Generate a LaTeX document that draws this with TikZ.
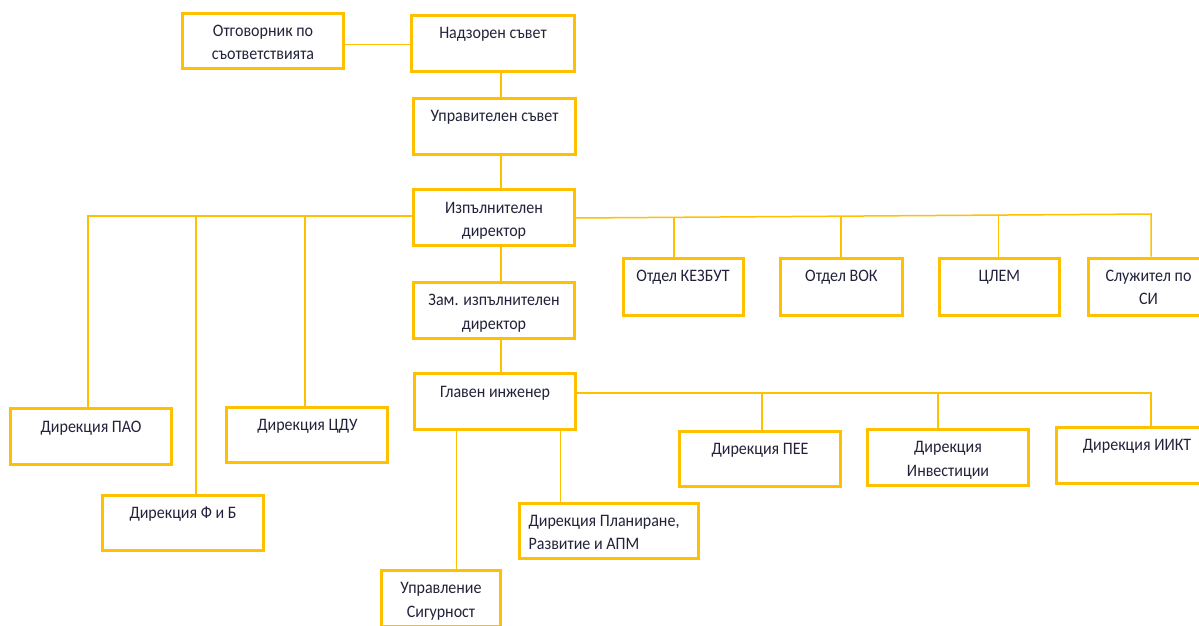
\documentclass[tikz,border=0pt]{standalone}
\usepackage{fontspec}
\setmainfont{Carlito}[FakeStretch=0.915]
\definecolor{gold}{RGB}{255,192,0}
\definecolor{ink}{RGB}{34,34,58}
\newcommand\fst{\rule{0pt}{13pt}}
\begin{document}
\begin{tikzpicture}[x=1pt,y=-1pt,
  orgbox/.style={draw=gold, line width=3pt, fill=white, inner sep=0pt,
    minimum width=#1, minimum height=55.5pt},
  orglbl/.style={anchor=north, yshift=-11.5pt, inner sep=0pt, text=ink,
    align=center, font=\fontsize{17.5}{23.5}\selectfont},
  conn/.style={draw=gold, line width=1.5pt}]
\useasboundingbox (0,0) rectangle (1199,626);
\clip (0,0) rectangle (1199,626);

% boxes
\node[orgbox=161pt, label={[orglbl]north:{\fst Отговорник по\\съответствията}}] (otv) at (263,41) {};
\node[orgbox=163pt, label={[orglbl]north:{\fst Надзорен съвет}}] (nadz) at (493,43.4) {};
\node[orgbox=162pt, label={[orglbl]north:{\fst Управителен съвет}}] (upr) at (494.5,126.5) {};
\node[orgbox=161pt, label={[orglbl]north:{\fst Изпълнителен\\директор}}] (izp) at (494,217.6) {};
\node[orgbox=161pt, label={[orglbl]north:{\fst Зам. изпълнителен\\директор}}] (zam) at (494,310.5) {};
\node[orgbox=161pt, label={[orglbl]north:{\fst Главен инженер}}] (glav) at (495,401.7) {};

\node[orgbox=120pt, minimum height=57pt, label={[orglbl]north:{\fst Отдел КЕЗБУТ}}] (kez) at (683,286.7) {};
\node[orgbox=121.7pt, minimum height=57pt, label={[orglbl]north:{\fst Отдел ВОК}}] (vok) at (841.4,286.7) {};
\node[orgbox=119.5pt, minimum height=57pt, label={[orglbl]north:{\fst ЦЛЕМ}}] (clem) at (999.3,286.7) {};
\node[orgbox=121pt, minimum height=57pt, label={[orglbl]north:{\fst Служител по\\СИ}}] (sluz) at (1148.5,286.7) {};

\node[orgbox=161pt, label={[orglbl]north:{\fst Дирекция ПАО}}] (pao) at (91,436.7) {};
\node[orgbox=161pt, label={[orglbl]north:{\fst Дирекция ЦДУ}}] (cdu) at (307.4,435) {};
\node[orgbox=161pt, label={[orglbl]north:{\fst Дирекция Ф и Б}}] (fib) at (183,522.9) {};
\node[orgbox=119.6pt, minimum height=56pt, label={[orglbl]north:{\fst Управление\\Сигурност}}] (sig) at (441,598.5) {};
\node[orgbox=178.3pt, label={[orglbl, anchor=north west, align=left, xshift=10pt]north west:{\fst Дирекция Планиране,\\Развитие и АПМ}}] (plan) at (609,531) {};

\node[orgbox=161pt, label={[orglbl]north:{\fst Дирекция ПЕЕ}}] (pee) at (760,459.2) {};
\node[orgbox=161pt, label={[orglbl]north:{\fst Дирекция\\Инвестиции}}] (inv) at (948,457.5) {};
\node[orgbox=161pt, label={[orglbl]north:{\fst Дирекция ИИКТ}}] (iikt) at (1137,455.5) {};

% connectors
\draw[conn] (otv.east |- 0,44.3) -- (nadz.west |- 0,44.3);
\draw[conn] (501,0 |- nadz.south) -- (501,0 |- upr.north);
\draw[conn] (501,0 |- upr.south) -- (501,0 |- izp.north);
\draw[conn] (501,0 |- izp.south) -- (501,0 |- zam.north);
\draw[conn] (501,0 |- zam.south) -- (501,0 |- glav.north);

% left bus from executive director
\draw[conn] (izp.west |- 0,216) -| (88,0 |- pao.north);
\draw[conn] (196,216) -- (196,0 |- fib.north);
\draw[conn] (305,216) -- (305,0 |- cdu.north);

% right bus from executive director
\draw[conn] (izp.east |- 0,218) -- (1151,214) -- (1151,0 |- sluz.north);
\draw[conn] (674,217.3) -- (674,0 |- kez.north);
\draw[conn] (841,216.2) -- (841,0 |- vok.north);
\draw[conn] (998.5,215.1) -- (998.5,0 |- clem.north);

% chief engineer
\draw[conn] (glav.east |- 0,393) -| (1151,0 |- iikt.north);
\draw[conn] (762,393) -- (762,0 |- pee.north);
\draw[conn] (938,393) -- (938,0 |- inv.north);
\draw[conn] (456.5,0 |- glav.south) -- (456.5,0 |- sig.north);
\draw[conn] (560.5,0 |- glav.south) -- (560.5,0 |- plan.north);
\end{tikzpicture}
\end{document}
